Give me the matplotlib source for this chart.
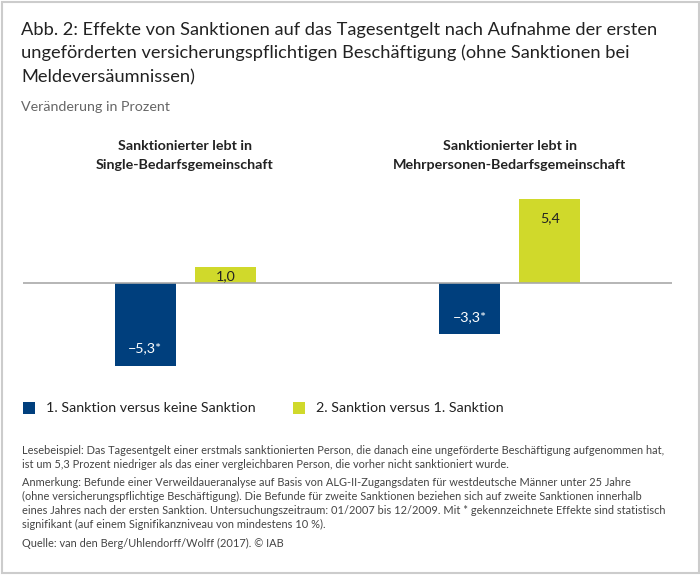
import matplotlib
matplotlib.use("Agg")
import matplotlib.pyplot as plt
from matplotlib.patches import Rectangle
import numpy as np

plt.rcParams["font.family"] = ["Lato", "DejaVu Sans"]

W, H = 700, 575

groups = ["Sanktionierter lebt in\nSingle-Bedarfsgemeinschaft",
          "Sanktionierter lebt in\nMehrpersonen-Bedarfsgemeinschaft"]
series_names = ["1. Sanktion versus keine Sanktion", "2. Sanktion versus 1. Sanktion"]
first_sanction = [-5.3, -3.3]
second_sanction = [1.0, 5.4]
first_labels = ["\u22125,3*", "\u22123,3*"]
second_labels = ["1,0", "5,4"]

blue = "#003f7d"
green = "#d0d92b"
grey = "#a9a9a9"
dark = "#222222"
note_col = "#444444"

title_lines = ["Abb. 2: Effekte von Sanktionen auf das Tagesentgelt nach Aufnahme der ersten",
               "ungeförderten versicherungspflichtigen Beschäftigung (ohne Sanktionen bei",
               "Meldeversäumnissen)"]
subtitle = "Veränderung in Prozent"
notes = [
    (450, "Lesebeispiel: Das Tagesentgelt einer erstmals sanktionierten Person, die danach eine ungeförderte Beschäftigung aufgenommen hat,"),
    (464, "ist um 5,3 Prozent niedriger als das einer vergleichbaren Person, die vorher nicht sanktioniert wurde."),
    (482, "Anmerkung: Befunde einer Verweildaueranalyse auf Basis von ALG-II-Zugangsdaten für westdeutsche Männer unter 25 Jahre"),
    (496, "(ohne versicherungspflichtige Beschäftigung). Die Befunde für zweite Sanktionen beziehen sich auf zweite Sanktionen innerhalb"),
    (510, "eines Jahres nach der ersten Sanktion. Untersuchungszeitraum: 01/2007 bis 12/2009. Mit * gekennzeichnete Effekte sind statistisch"),
    (524, "signifikant (auf einem Signifikanzniveau von mindestens 10 %)."),
    (543, "Quelle: van den Berg/Uhlendorff/Wolff (2017). © IAB"),
]

fig = plt.figure(figsize=(W / 100, H / 100), dpi=100, facecolor="white")


def fx(px):
    return px / W


def fy(py):
    return 1 - py / H


# outer frame
fig.add_artist(Rectangle((fx(1.5), fy(573)), fx(697), 571.5 / H, transform=fig.transFigure,
                         fill=False, edgecolor="#cccccc", linewidth=1.5))

for y, line in zip([30, 53, 77], title_lines):
    fig.text(fx(21), fy(y), line, fontsize=13.14, color=dark, va="center")
fig.text(fx(21), fy(107), subtitle, fontsize=10.25, color="#666666", va="center")

# 15.6 px per percentage point, baseline at y=283
ax = fig.add_axes([fx(23), fy(390), 649 / W, 220 / H])
ax.set_xlim(-0.5, 1.5)
ax.set_ylim((283 - 390) / 15.6, (283 - 170) / 15.6)
ax.axis("off")

x = np.arange(len(groups))
offset = 40 / 324.5
width = 61 / 324.5
ax.bar(x - offset, first_sanction, width, color=blue)
ax.bar(x + offset, second_sanction, width, color=green)
ax.axhline(0, color=grey, linewidth=1.2, zorder=3)

for xi, v, lab in zip(x, first_sanction, first_labels):
    ax.annotate(lab, (xi - offset, v), xytext=(0, 12.5), textcoords="offset points",
                ha="center", va="center", color="white", fontsize=10.3)
# the small bar only has room for a label close to its top
for xi, v, lab, dy in zip(x, second_sanction, second_labels, [-6, -14]):
    ax.annotate(lab, (xi + offset, v), xytext=(0, dy), textcoords="offset points",
                ha="center", va="center", color=dark, fontsize=10.3)

for xc, g in zip([185, 510], groups):
    a, b = g.split("\n")
    fig.text(fx(xc), fy(146), a, fontsize=10.3, fontweight="bold", color=dark, ha="center", va="center")
    fig.text(fx(xc), fy(165), b, fontsize=10.3, fontweight="bold", color=dark, ha="center", va="center")

# legend
for x0, col, name, tx in zip([23, 293], [blue, green], series_names, [46, 316]):
    fig.add_artist(Rectangle((fx(x0), fy(414)), 12 / W, 12 / H, transform=fig.transFigure,
                             facecolor=col, edgecolor="none"))
    fig.text(fx(tx), fy(408), name, fontsize=10.3, color=dark, va="center")

for y, line in notes:
    fig.text(fx(22), fy(y), line, fontsize=7.94, color=note_col, va="center")

fig.savefig("out.png", dpi=100, facecolor="white")
